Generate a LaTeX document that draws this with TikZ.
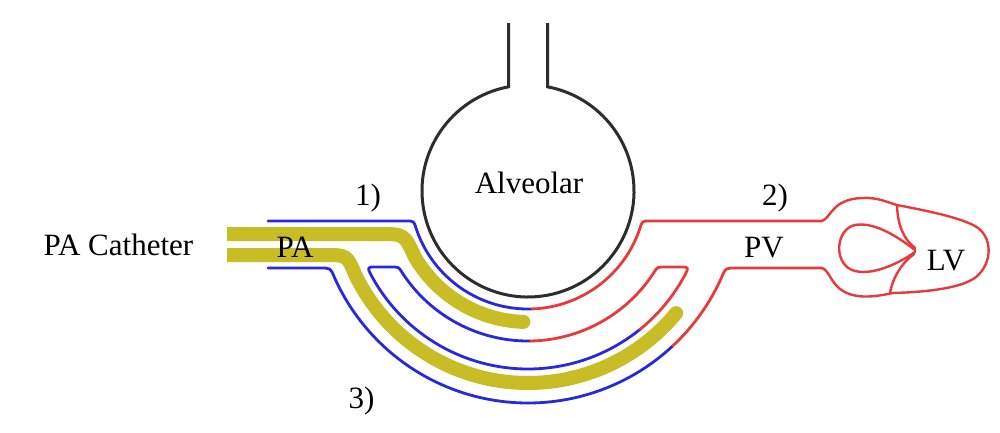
\documentclass[tikz,border=0pt]{standalone}
\usepackage{fontspec}
\setmainfont{Liberation Serif}
\definecolor{bleu}{RGB}{40,40,225}
\definecolor{rouge}{RGB}{232,58,58}
\definecolor{jaune}{RGB}{200,189,36}
\definecolor{gris}{RGB}{45,45,45}
\tikzset{paroi/.style = {draw=#1, line width=2.8pt, line cap=round, line join=round},
         paroi/.default=bleu,
         sonde/.style = {draw=jaune, line width=14pt},
         alveole/.style = {draw=gris, line width=3pt},
         etiq/.style = {anchor=base, inner sep=0pt, font=\fontsize{31}{36}\selectfont}
        }

\begin{document}
\begin{tikzpicture}[x=1pt, y=-1pt]
  \fill[white] (0,0) rectangle (1000,432);
  \useasboundingbox (0,0) rectangle (1000,432);
  \coordinate (C) at (528,191);

  \draw[alveole] (508.5,23) -- ([shift={(C)}]259.4:106)
        arc[start angle=259.4, end angle=-79.4, radius=106] -- (547.5,23);

  \draw[paroi] (268,221) -- (406,221) .. controls ([shift={(C)}]165.27:118) .. ([shift={(C)}]161.4:118)
        arc[start angle=161.4, end angle=88, radius=118];
  \draw[paroi=rouge] ([shift={(C)}]88:118) arc[start angle=88, end angle=18.6, radius=118]
        .. controls ([shift={(C)}]14.73:118) .. (650,221) -- (822,221);

  \draw[paroi] ([shift={(C)}]51:178) arc[start angle=51, end angle=151.83, radius=178]
        .. controls ([shift={(C)}]154.73:178) .. (376,267) -- (391.7,267)
        .. controls ([shift={(C)}]149.56:150) .. ([shift={(C)}]146.89:150)
        arc[start angle=146.89, end angle=89, radius=150];
  \draw[paroi=rouge] ([shift={(C)}]89:150) arc[start angle=89, end angle=33.11, radius=150]
        .. controls ([shift={(C)}]30.44:150) .. (664.3,267) -- (680,267)
        .. controls ([shift={(C)}]25.27:178) .. ([shift={(C)}]28.17:178)
        arc[start angle=28.17, end angle=51, radius=178];

  \draw[paroi] (268,268) -- (320.5,268) .. controls ([shift={(C)}]158.7:212) .. ([shift={(C)}]156:212)
        arc[start angle=156, end angle=47, radius=212];
  \draw[paroi=rouge] ([shift={(C)}]47:212) arc[start angle=47, end angle=24, radius=212]
        .. controls ([shift={(C)}]21.3:212) .. (735.5,268) -- (822,268);

  \draw[paroi=rouge, line width=2.4pt] (822,221) .. controls (831,218) and (832,199) .. (862,198)
        .. controls (878,197) and (889,203) .. (897,205)
        .. controls (928,211) and (958,217) .. (975,226)
        .. controls (993,236) and (993,263) .. (976,277)
        .. controls (962,288) and (928,292) .. (893,293)
        .. controls (878,296) and (858,300) .. (843,291)
        .. controls (831,284) and (829,270) .. (822,268);
  \draw[paroi=rouge, line width=2.4pt] (897,206) .. controls (898,228) and (905,240) .. (915,248);
  \draw[paroi=rouge, line width=2.4pt] (890,293) .. controls (893,276) and (903,262) .. (914,254);
  \draw[paroi=rouge, line width=2.4pt] (915,250) .. controls (893,233) and (872,222) .. (855,225)
        .. controls (836,229) and (833,262) .. (852,270)
        .. controls (870,277) and (898,264) .. (915,252) -- cycle;

  \draw[sonde] (227,234) -- (379.3,234) .. controls ([shift={(C)}]160.84:131) .. ([shift={(C)}]149.91:131)
        arc[start angle=149.91, end angle=92, radius=131] coordinate (bout1);
  \draw[sonde] (227,255) -- (325,255) .. controls ([shift={(C)}]160.53:192) .. ([shift={(C)}]153.96:192)
        arc[start angle=153.96, end angle=39.5, radius=192] coordinate (bout2);
  \fill[jaune] (bout1) circle[radius=7];
  \fill[jaune] (bout2) circle[radius=7];

  \node[etiq] (catheter) at (118.5,255) {PA Catheter};
  \node[etiq] (pa) at (295,257) {PA};
  \node[etiq] (un) at (368,205) {1)};
  \node[etiq] (alv) at (529,193) {Alveolar};
  \node[etiq] (deux) at (775,205) {2)};
  \node[etiq] (pv) at (764,257) {PV};
  \node[etiq] (lv) at (946,270) {LV};
  \node[etiq] (trois) at (361.5,408) {3)};
\end{tikzpicture}
\end{document}
